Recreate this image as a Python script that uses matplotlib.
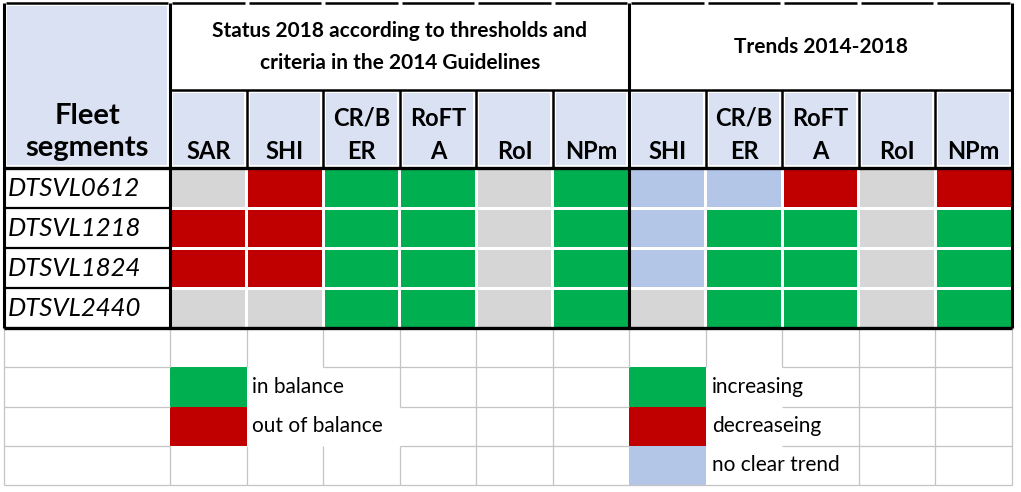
import matplotlib.pyplot as plt
from matplotlib.patches import Rectangle

plt.rcParams['font.family'] = ['Lato', 'DejaVu Sans']

# ---- data ----
segments = ['DTSVL0612', 'DTSVL1218', 'DTSVL1824', 'DTSVL2440']
status_title = 'Status 2018 according to thresholds and\ncriteria in the 2014 Guidelines'
trend_title = 'Trends 2014-2018'
status_cols = ['SAR', 'SHI', 'CR/B\nER', 'RoFT\nA', 'RoI', 'NPm']
trend_cols = ['SHI', 'CR/B\nER', 'RoFT\nA', 'RoI', 'NPm']

# status: 'in' = in balance, 'out' = out of balance, 'na' = not assessed
status = [
    ['na', 'out', 'in', 'in', 'na', 'in'],
    ['out', 'out', 'in', 'in', 'na', 'in'],
    ['out', 'out', 'in', 'in', 'na', 'in'],
    ['na', 'na', 'in', 'in', 'na', 'in'],
]
# trend: 'inc', 'dec', 'flat' = no clear trend, 'na'
trend = [
    ['flat', 'flat', 'dec', 'na', 'dec'],
    ['flat', 'inc', 'inc', 'na', 'inc'],
    ['flat', 'inc', 'inc', 'na', 'inc'],
    ['na', 'inc', 'inc', 'na', 'inc'],
]
status_legend = [('in', 'in balance'), ('out', 'out of balance')]
trend_legend = [('inc', 'increasing'), ('dec', 'decreaseing'), ('flat', 'no clear trend')]

# ---- styles ----
GREEN = '#00B050'
RED = '#C00000'
GREY = '#D6D6D6'
BLUE = '#B4C6E7'
HEAD = '#D9E1F2'
colors = {'in': GREEN, 'out': RED, 'na': GREY,
          'inc': GREEN, 'dec': RED, 'flat': BLUE}

# layout (pixels)
x0, label_w = 4, 166
ncols = len(status_cols) + len(trend_cols)
col_w = (1012 - x0 - label_w) / ncols
edges = [x0] + [x0 + label_w + i * col_w for i in range(ncols + 1)]
y_top, y_head, y_sub = 3, 90, 168
row_h = 40
data_rows = [y_sub + i * row_h for i in range(len(segments) + 1)]
leg_h = 39.25
leg_rows = [data_rows[-1] + i * leg_h for i in range(5)]

fig = plt.figure(figsize=(10.21, 4.92), dpi=100)
ax = fig.add_axes([0, 0, 1, 1])
ax.set_xlim(0, 1021)
ax.set_ylim(492, 0)
ax.axis('off')


def cell(xa, xb, ya, yb, color, inset=1.5, ec='none'):
    ax.add_patch(Rectangle((xa + inset, ya + inset), xb - xa - 2 * inset,
                           yb - ya - 2 * inset, facecolor=color, edgecolor=ec, lw=0))


def hline(y, xa, xb, color='black', lw=1.8):
    ax.plot([xa, xb], [y, y], color=color, lw=lw, solid_capstyle='butt')


def vline(x, ya, yb, color='black', lw=1.8):
    ax.plot([x, x], [ya, yb], color=color, lw=lw, solid_capstyle='butt')


# light gridlines below the table
GRID = '#C4C4C4'
h_segs = {1: [(0, 1), (3, 7), (9, 12)], 2: [(0, 1), (4, 7), (9, 12)],
          3: [(0, 1), (4, 7), (9, 12)], 4: [(0, 12)]}
v_segs = {0: [(0, 4)], 1: [(0, 1), (3, 4)], 2: [(0, 1), (3, 4)], 3: [(0, 1), (3, 4)],
          4: [(0, 2), (3, 4)], 5: [(0, 4)], 6: [(0, 4)], 7: [(0, 1)], 8: [(0, 1)],
          9: [(0, 1)], 10: [(0, 4)], 11: [(0, 4)], 12: [(0, 4)]}
for r, segs in h_segs.items():
    for a, b in segs:
        hline(leg_rows[r], edges[a], edges[b], GRID, 0.9)
for c, segs in v_segs.items():
    for a, b in segs:
        vline(edges[c], leg_rows[a], leg_rows[b], GRID, 0.9)

# header cells
cell(edges[0], edges[1], y_top, y_sub, HEAD, inset=3)
ax.text((edges[0] + edges[1]) / 2, 132, 'Fleet\nsegments', ha='center', va='center',
        fontsize=21, fontweight='bold', linespacing=1.3)
cell(edges[1], edges[7], y_top, y_head, 'white')
ax.text((edges[1] + edges[7]) / 2, 47, status_title, ha='center', va='center',
        fontsize=15, fontweight='bold', linespacing=1.72)
ax.text((edges[7] + edges[12]) / 2, 47, trend_title, ha='center', va='center',
        fontsize=15, fontweight='bold')

for i, name in enumerate(status_cols + trend_cols):
    xa, xb = edges[i + 1], edges[i + 2]
    cell(xa, xb, y_head, y_sub, HEAD, inset=3)
    ax.text((xa + xb) / 2, 159, name, ha='center', va='baseline', fontsize=17,
            fontweight='bold', linespacing=1.55)

# data cells
for r, seg in enumerate(segments):
    ya, yb = data_rows[r], data_rows[r + 1]
    ax.text(edges[0] + 4, (ya + yb) / 2 + 1, seg, ha='left', va='center',
            fontsize=18.5, fontstyle='italic')
    for c, v in enumerate(status[r] + trend[r]):
        cell(edges[c + 1], edges[c + 2], ya, yb, colors[v])
    if r > 0:
        hline(ya, edges[0], edges[1], lw=1.6)

# legends
for k, (code, label) in enumerate(status_legend):
    ya, yb = leg_rows[k + 1], leg_rows[k + 2]
    cell(edges[1], edges[2], ya, yb, colors[code], inset=0)
    ax.text(edges[2] + 5, (ya + yb) / 2, label, ha='left', va='center', fontsize=15)
for k, (code, label) in enumerate(trend_legend):
    ya, yb = leg_rows[k + 1], leg_rows[k + 2]
    cell(edges[7], edges[8], ya, yb, colors[code], inset=0)
    ax.text(edges[8] + 6, (ya + yb) / 2, label, ha='left', va='center', fontsize=15)

# black borders
for i in range(len(edges) - 1):
    hline(y_top, edges[i] + 2, edges[i + 1] - 2, lw=1.8)
hline(y_head, edges[1], edges[12], lw=1.8)
hline(y_sub, edges[0], edges[12], lw=2.4)
hline(data_rows[-1], edges[0], edges[12], lw=2.4)
for x in (edges[0], edges[1], edges[7], edges[12]):
    vline(x, y_top, data_rows[-1], lw=2.2)
for x in edges[2:12]:
    vline(x, y_head, y_sub, lw=1.8)

fig.savefig('out.png', dpi=100)
